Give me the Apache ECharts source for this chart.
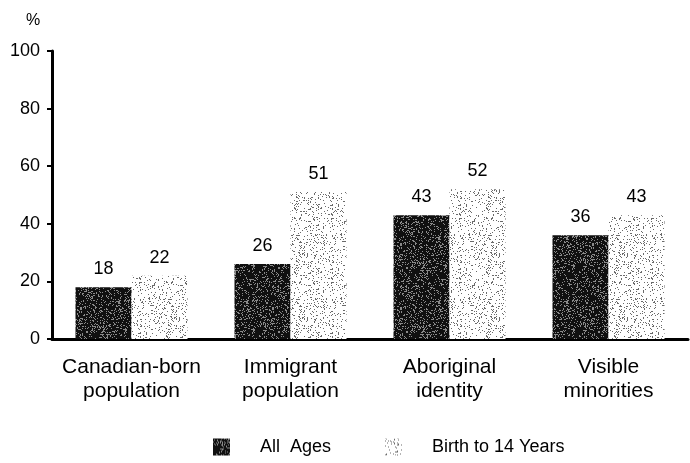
<!DOCTYPE html>
<html>
<head>
<meta charset="utf-8">
<script src="https://cdn.jsdelivr.net/npm/echarts@6/dist/echarts.min.js"></script>
<style>html,body{margin:0;padding:0;background:#fff}#c{width:690px;height:463px}</style>
</head>
<body>
<div id="c"></div>
<script>
const categories = ['Canadian-born\npopulation', 'Immigrant\npopulation', 'Aboriginal\nidentity', 'Visible\nminorities'];
const allAges = [18, 26, 43, 36];
const birthTo14 = [22, 51, 52, 43];
const yTicks = [0, 20, 40, 60, 80, 100];
const seriesNames = ['All  Ages', 'Birth to 14 Years'];

function makePattern(base, dot, density, seed) {
  const cv = document.createElement('canvas');
  cv.width = 64; cv.height = 64;
  const ctx = cv.getContext('2d');
  ctx.fillStyle = base; ctx.fillRect(0, 0, 64, 64);
  let s = seed;
  function rnd() { s = (s * 1103515245 + 12345) % 2147483648; return s / 2147483648; }
  for (let y = 0; y < 64; y++) {
    for (let x = 0; x < 64; x++) {
      if (rnd() < density) { ctx.fillStyle = dot; ctx.fillRect(x, y, 1, 1); }
    }
  }
  return cv;
}
const darkPat = { image: makePattern('#101010', '#8a8a8a', 0.2, 7), repeat: 'repeat' };
const lightPat = { image: makePattern('#ffffff', '#6a6a6a', 0.12, 91), repeat: 'repeat' };

const chart = echarts.init(document.getElementById('c'));
const font = 'Liberation Sans, Arial, sans-serif';
const legendText = { fontFamily: font, fontSize: 18, color: '#000', padding: [0, 0, 0, 25] };
chart.setOption({
  animation: false,
  backgroundColor: '#fff',
  grid: { left: 52, right: 2, top: 51, bottom: 124 },
  graphic: [{ type: 'text', left: 26, top: 13, style: { text: '%', font: '16px ' + font, fill: '#000' } }],
  legend: [
    { data: [seriesNames[0]], left: 213, top: 438, padding: 0, itemWidth: 17, itemHeight: 17, icon: 'rect',
      textStyle: legendText },
    { data: [seriesNames[1]], left: 385, top: 438, padding: 0, itemWidth: 17, itemHeight: 17, icon: 'rect',
      textStyle: legendText }
  ],
  xAxis: {
    type: 'category', data: categories,
    axisLine: { lineStyle: { color: '#000', width: 3 } },
    axisTick: { show: false },
    axisLabel: { color: '#000', fontFamily: font, fontSize: 21, margin: 16, lineHeight: 24, interval: 0, hideOverlap: false }
  },
  yAxis: {
    type: 'value', min: 0, max: 100, interval: 20,
    axisLine: { show: true, lineStyle: { color: '#000', width: 3 } },
    axisTick: { show: true, length: 5, lineStyle: { color: '#000', width: 2 } },
    splitLine: { show: false },
    axisLabel: { color: '#000', fontFamily: font, fontSize: 18, margin: 12,
      formatter: v => yTicks.includes(v) ? String(v) : '' }
  },
  series: [
    { name: seriesNames[0], type: 'bar', data: allAges, barWidth: 56, barGap: '0%',
      itemStyle: { color: darkPat },
      label: { show: true, position: 'top', distance: 9, color: '#000', fontFamily: font, fontSize: 18 } },
    { name: seriesNames[1], type: 'bar', data: birthTo14, barWidth: 56, barGap: '0%',
      itemStyle: { color: lightPat },
      label: { show: true, position: 'top', distance: 9, color: '#000', fontFamily: font, fontSize: 18 } }
  ]
});
</script>
</body>
</html>
